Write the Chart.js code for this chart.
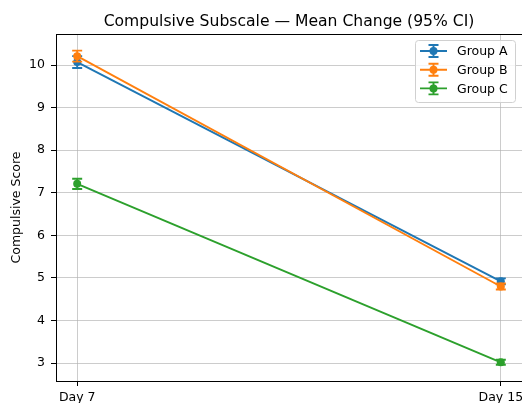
<!DOCTYPE html>
<html>
<head>
<meta charset="utf-8">
<script src="https://cdn.jsdelivr.net/npm/chart.js@4.4.0/dist/chart.umd.min.js"></script>
<style>
  html, body { margin: 0; padding: 0; background: #fff; }
  #wrap { width: 522px; height: 403px; }
</style>
</head>
<body>
<div id="wrap"><canvas id="scoreChart" width="522" height="403"></canvas></div>
<script>
const days = ['Day 7', 'Day 15'];
const groupNames = ['Group A', 'Group B', 'Group C'];
const groupA = [10.07, 4.92];
const groupB = [10.21, 4.80];
const groupC = [7.21, 3.02];
// 95% CI half widths
const ciA = [0.14, 0.07];
const ciB = [0.13, 0.07];
const ciC = [0.12, 0.06];
const yTicks = [3, 4, 5, 6, 7, 8, 9, 10];
const colors = ['#1f77b4', '#ff7f0e', '#2ca02c'];

const FONT = 'DejaVu Sans';
const ctx = document.getElementById('scoreChart').getContext('2d');

function makeSet(i, vals, ci) {
    return {
        label: groupNames[i],
        data: vals.map((v, k) => ({ x: k, y: v })),
        errors: ci,
        borderColor: colors[i],
        backgroundColor: colors[i],
        borderWidth: 1.9,
        pointRadius: 4,
        pointHoverRadius: 4,
        pointBorderWidth: 0,
        order: 3 - i
    };
}

// error bars with caps, on top of each group's own line
const errorBars = {
    id: 'errorBars',
    afterDatasetDraw(chart, args) {
        const ds = chart.data.datasets[args.index];
        const x = chart.scales.x, y = chart.scales.y;
        const c = chart.ctx;
        c.save();
        c.strokeStyle = ds.borderColor;
        c.lineWidth = 1.9;
        ds.data.forEach((p, k) => {
            const px = x.getPixelForValue(p.x);
            const top = y.getPixelForValue(p.y + ds.errors[k]);
            const bot = y.getPixelForValue(p.y - ds.errors[k]);
            c.beginPath();
            c.moveTo(px, top); c.lineTo(px, bot);
            c.moveTo(px - 5, top); c.lineTo(px + 5, top);
            c.moveTo(px - 5, bot); c.lineTo(px + 5, bot);
            c.stroke();
        });
        c.restore();
    }
};

// title over the plot area, plus the top spine (right spine sits on the canvas edge)
const frameAndTitle = {
    id: 'frameAndTitle',
    afterDraw(chart) {
        const a = chart.chartArea;
        const c = chart.ctx;
        c.save();
        c.strokeStyle = '#000';
        c.lineWidth = 1;
        c.beginPath();
        c.moveTo(a.left, a.top + 0.5);
        c.lineTo(a.right, a.top + 0.5);
        c.moveTo(a.right + 0.5, a.top);
        c.lineTo(a.right + 0.5, a.bottom);
        c.stroke();
        c.fillStyle = '#000';
        c.font = '15.6px "' + FONT + '"';
        c.textAlign = 'center';
        c.textBaseline = 'alphabetic';
        c.fillText('Compulsive Subscale \u2014 Mean Change (95% CI)', (a.left + a.right) / 2, 26);
        c.restore();
    }
};

// legend box in the upper right corner of the axes
const insideLegend = {
    id: 'insideLegend',
    afterDraw(chart) {
        const a = chart.chartArea;
        const c = chart.ctx;
        const w = 100, h = 62;
        const bx = a.right - 7 - w, by = a.top + 6;
        c.save();
        c.fillStyle = 'rgba(255,255,255,0.8)';
        c.strokeStyle = '#d0d0d0';
        c.lineWidth = 1;
        c.beginPath();
        c.roundRect(bx + 0.5, by + 0.5, w, h, 3);
        c.fill();
        c.stroke();
        c.font = '12.5px "' + FONT + '"';
        c.textBaseline = 'middle';
        c.textAlign = 'left';
        chart.data.datasets.forEach((ds, i) => {
            const cy = by + 11 + i * 18.7;
            const x0 = bx + 5, x1 = bx + 32, xm = (x0 + x1) / 2;
            c.strokeStyle = ds.borderColor;
            c.fillStyle = ds.borderColor;
            c.lineWidth = 1.9;
            c.beginPath();
            c.moveTo(x0, cy); c.lineTo(x1, cy);
            c.moveTo(xm, cy - 6); c.lineTo(xm, cy + 6);
            c.moveTo(xm - 5, cy - 6); c.lineTo(xm + 5, cy - 6);
            c.moveTo(xm - 5, cy + 6); c.lineTo(xm + 5, cy + 6);
            c.stroke();
            c.beginPath();
            c.arc(xm, cy, 4, 0, Math.PI * 2);
            c.fill();
            c.fillStyle = '#000';
            c.fillText(ds.label, bx + 42, cy + 1);
        });
        c.restore();
    }
};

const gridColor = 'rgba(176,176,176,0.65)';

const scoreChart = new Chart(ctx, {
    type: 'line',
    data: {
        datasets: [
            makeSet(0, groupA, ciA),
            makeSet(1, groupB, ciB),
            makeSet(2, groupC, ciC)
        ]
    },
    options: {
        responsive: false,
        animation: false,
        layout: { autoPadding: false, padding: { top: 34, right: 0, bottom: 0, left: 0 } },
        plugins: {
            legend: { display: false },
            title: { display: false },
            tooltip: { enabled: false }
        },
        scales: {
            x: {
                type: 'linear',
                min: -0.05,
                max: 1.05,
                afterBuildTicks: axis => { axis.ticks = days.map((d, k) => ({ value: k })); },
                afterFit: axis => {
                    // let "Day 15" run up to the canvas edge
                    axis.height = 22;
                    axis.paddingLeft = 0;
                    axis.paddingRight = 0;
                },
                ticks: {
                    callback: v => days[v],
                    color: '#000',
                    font: { family: FONT, size: 12.5 },
                    padding: 4,
                    maxRotation: 0
                },
                grid: { color: gridColor, tickColor: '#000', tickLength: 5, lineWidth: 1 },
                border: { color: '#000', width: 1 }
            },
            y: {
                min: 2.58,
                max: 10.73,
                afterBuildTicks: axis => { axis.ticks = yTicks.map(v => ({ value: v })); },
                afterFit: axis => {
                    axis.width = 56;
                    axis.paddingTop = 0;
                    axis.paddingBottom = 0;
                },
                ticks: {
                    color: '#000',
                    font: { family: FONT, size: 12.5 },
                    padding: 6
                },
                title: {
                    display: true,
                    text: 'Compulsive Score',
                    color: '#000',
                    font: { family: FONT, size: 12.5 },
                    padding: { top: 9, bottom: 0 }
                },
                grid: { color: gridColor, tickColor: '#000', tickLength: 5, lineWidth: 1 },
                border: { color: '#000', width: 1 }
            }
        }
    },
    plugins: [errorBars, frameAndTitle, insideLegend]
});
</script>
</body>
</html>
